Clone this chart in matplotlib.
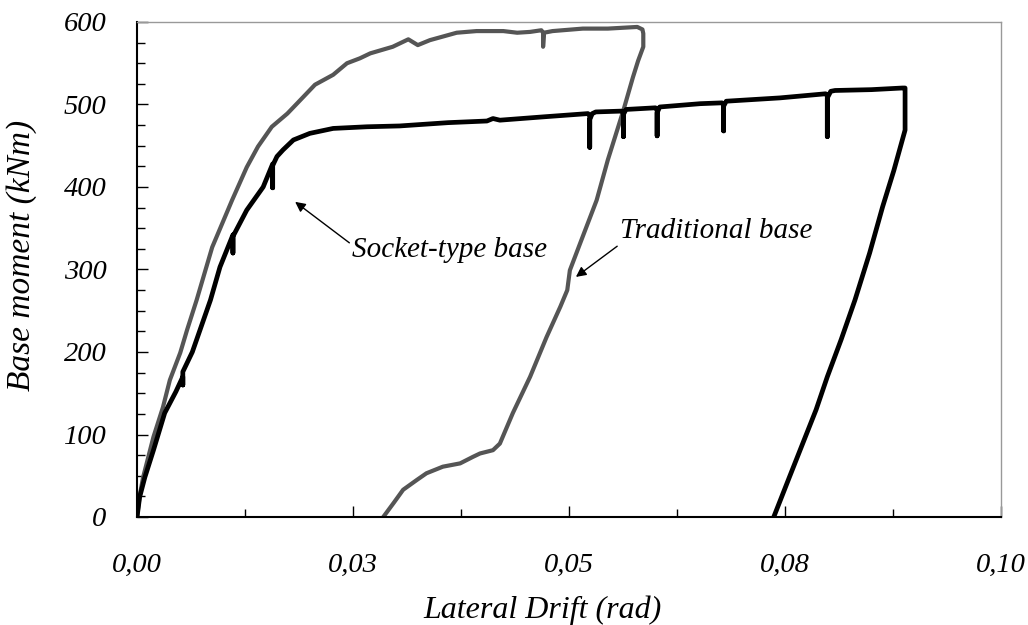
import matplotlib
matplotlib.use("Agg")
import matplotlib.pyplot as plt
from matplotlib.ticker import MultipleLocator

plt.rcParams['font.family'] = ['Liberation Serif', 'DejaVu Serif']
plt.rcParams['font.style'] = 'italic'

# socket-type base (black) - drift (rad), moment (kNm)
socket_x = [0.0, 0.0003, 0.0009, 0.0019, 0.0032, 0.0045, 0.0053, 0.0053, 0.0053,
            0.0064, 0.0073, 0.0085, 0.0096, 0.0111, 0.0111, 0.0111, 0.0127, 0.0146,
            0.0157, 0.0157, 0.0157, 0.0162, 0.0169, 0.0181, 0.0200, 0.0227, 0.0266,
            0.0304, 0.0360, 0.0405, 0.0412, 0.0420, 0.0470, 0.0522, 0.0524, 0.0524,
            0.0524, 0.0527, 0.0531, 0.0561, 0.0563, 0.0563, 0.0563, 0.0566, 0.0600,
            0.0602, 0.0602, 0.0602, 0.0605, 0.0652, 0.0677, 0.0679, 0.0679, 0.0679,
            0.0682, 0.0744, 0.0797, 0.0799, 0.0799, 0.0799, 0.0803, 0.0808, 0.0850,
            0.0886, 0.0889, 0.0889, 0.0876, 0.0863, 0.0848, 0.0831, 0.0815, 0.0799,
            0.0786, 0.0772, 0.0755, 0.0737]
socket_y = [0, 24, 48, 81, 126, 152, 170, 160, 176,
            200, 227, 263, 303, 342, 320, 340, 372, 400,
            428, 399, 426, 437, 445, 457, 465, 471, 473,
            474, 478, 480, 483, 481, 485, 489, 486, 448,
            482, 489, 491, 492, 490, 461, 488, 494, 496,
            494, 462, 490, 497, 501, 502, 500, 468, 498,
            504, 508, 513, 511, 461, 508, 516, 517, 518,
            520, 520, 469, 420, 376, 320, 263, 215, 170,
            130, 93, 48, 0]

# traditional base (gray)
trad_x = [0.0, 0.0003, 0.0007, 0.0019, 0.0030, 0.0038, 0.0050, 0.0058, 0.0069,
          0.0087, 0.0110, 0.0127, 0.0140, 0.0156, 0.0174, 0.0185, 0.0206, 0.0227,
          0.0243, 0.0258, 0.0270, 0.0296, 0.0314, 0.0325, 0.0339, 0.0370, 0.0393,
          0.0424, 0.0440, 0.0455, 0.0468, 0.0470, 0.0470, 0.0471, 0.0481, 0.0516,
          0.0545, 0.0579, 0.0585, 0.0586, 0.0586, 0.0580, 0.0574, 0.0563, 0.0545,
          0.0532, 0.0513, 0.0501, 0.0498, 0.0490, 0.0474, 0.0455, 0.0435, 0.0420,
          0.0412, 0.0397, 0.0389, 0.0374, 0.0354, 0.0335, 0.0324, 0.0308, 0.0297,
          0.0285]
trad_y = [0, 25, 48, 97, 133, 166, 199, 227, 263,
          327, 384, 424, 449, 473, 489, 501, 524, 536,
          550, 556, 562, 570, 579, 572, 578, 587, 589,
          589, 587, 588, 590, 587, 570, 587, 589, 592,
          592, 594, 591, 586, 570, 553, 533, 493, 433,
          384, 332, 299, 275, 255, 218, 170, 126, 89,
          81, 77, 73, 65, 61, 53, 45, 33, 17,
          0]

xticks = [0.0, 0.025, 0.05, 0.075, 0.1]
xtick_labels = ['0,00', '0,03', '0,05', '0,08', '0,10']
yticks = [0, 100, 200, 300, 400, 500, 600]

fig = plt.figure(figsize=(10.28, 6.25), dpi=100)
ax = fig.add_axes([0.1333, 0.1728, 0.8404, 0.792])

ax.plot(trad_x, trad_y, color='#555555', lw=3.0, solid_joinstyle='round', solid_capstyle='round')
ax.plot(socket_x, socket_y, color='black', lw=3.4, solid_joinstyle='round', solid_capstyle='round')

ax.set_xlim(0, 0.1)
ax.set_ylim(0, 600)
ax.set_xticks(xticks)
ax.set_xticklabels(xtick_labels)
ax.set_yticks(yticks)
ax.set_yticklabels([str(v) for v in yticks])
ax.xaxis.set_minor_locator(MultipleLocator(0.0125))
ax.yaxis.set_minor_locator(MultipleLocator(25))

ax.tick_params(axis='both', which='both', direction='in', labelsize=20.5, width=1)
ax.tick_params(axis='both', which='major', length=8)
ax.tick_params(axis='both', which='minor', length=6)
ax.tick_params(axis='x', which='major', pad=26)
ax.tick_params(axis='y', which='major', pad=22)

for s in ['left', 'bottom']:
    ax.spines[s].set_color('black')
    ax.spines[s].set_linewidth(1.5)
for s in ['top', 'right']:
    ax.spines[s].set_color('#999999')
    ax.spines[s].set_linewidth(1.0)

ax.set_xlabel('Lateral Drift (rad)', fontsize=23)
ax.set_ylabel('Base moment (kNm)', fontsize=24)
ax.xaxis.set_label_coords(0.469, -0.158)
ax.yaxis.set_label_coords(-0.116, 0.529)

ax.annotate('Socket-type base', xy=(0.0183, 382), xytext=(0.0249, 315),
            fontsize=21, ha='left', va='baseline',
            arrowprops=dict(arrowstyle='-|>', color='black', lw=1.0, mutation_scale=15,
                            shrinkA=0, shrinkB=0, relpos=(0, 0.7)))
ax.annotate('Traditional base', xy=(0.0508, 291), xytext=(0.0559, 338),
            fontsize=21, ha='left', va='baseline',
            arrowprops=dict(arrowstyle='-|>', color='black', lw=1.0, mutation_scale=15,
                            shrinkA=0, shrinkB=0, relpos=(0, 0)))

fig.savefig('out.png', dpi=100)
